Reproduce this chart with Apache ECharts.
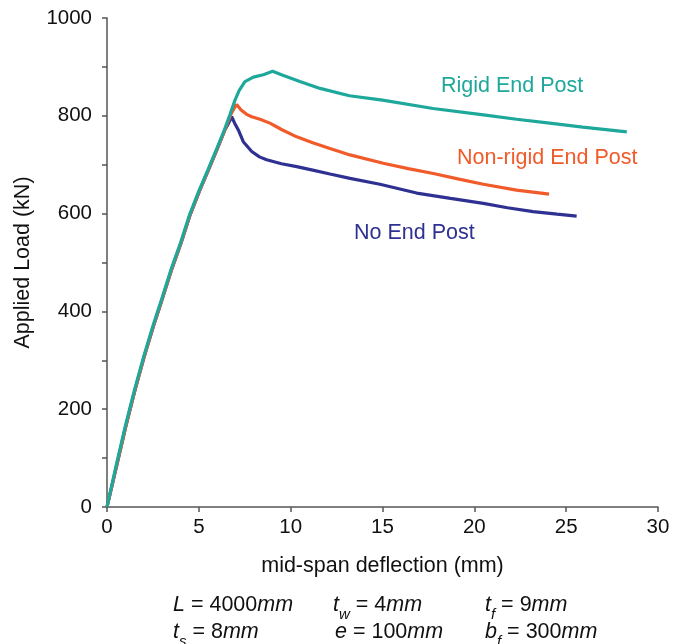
<!DOCTYPE html>
<html>
<head>
<meta charset="utf-8">
<script src="https://cdn.jsdelivr.net/npm/echarts@6/dist/echarts.min.js"></script>
<style>
html,body{margin:0;padding:0;background:#fff;}
#chart{width:692px;height:644px;}
</style>
</head>
<body>
<div id="chart"></div>
<script>
// ---- data (deflection mm, load kN) ----
const rigidX = [0, 0.5, 1.0, 1.5, 2.0, 2.5, 3.0, 3.5, 4.0, 4.5, 5.0, 5.5, 6.0, 6.4, 6.7, 6.97, 7.2, 7.51, 7.97, 8.51, 9.02, 9.5, 10.5, 11.6, 13.2, 15.0, 17.75, 20.5, 22.3, 24.1, 25.9, 28.3];
const rigidY = [0, 85, 166, 240, 308, 370, 428, 487, 540, 598, 646, 690, 735, 772, 803, 832, 852, 870, 879, 884, 891, 884, 870, 856, 841, 832, 815, 802, 793, 785, 777, 767];

const nonRigidX = [0, 0.53, 1.03, 1.53, 2.03, 2.53, 3.03, 3.53, 4.03, 4.53, 5.03, 5.53, 6.03, 6.43, 6.77, 6.92, 7.06, 7.3, 7.6, 7.88, 8.33, 8.87, 9.5, 10.33, 11.2, 12.14, 13.23, 15.04, 16.4, 17.77, 19.1, 20.49, 22.3, 24.07];
const nonRigidY = [0, 85, 166, 240, 308, 370, 428, 487, 540, 598, 646, 690, 735, 772, 805, 815, 823, 812, 803, 798, 793, 785, 772, 757, 745, 733, 720, 703, 692, 682, 671, 660, 648, 640];

const noPostX = [0, 0.53, 1.03, 1.53, 2.03, 2.53, 3.03, 3.53, 4.03, 4.53, 5.03, 5.53, 6.03, 6.43, 6.62, 6.79, 6.95, 7.15, 7.42, 7.88, 8.3, 8.69, 9.5, 10.33, 11.2, 12.14, 13.23, 14.86, 16.86, 18.7, 20.49, 21.8, 23.2, 24.5, 25.57];
const noPostY = [0, 85, 166, 240, 308, 370, 428, 487, 540, 598, 646, 690, 735, 772, 785, 798, 785, 771, 747, 727, 716, 710, 702, 696, 689, 681, 672, 660, 642, 631, 621, 612, 604, 599, 595];

const xTicks = [0, 5, 10, 15, 20, 25, 30];
const yTicks = [0, 200, 400, 600, 800, 1000];

const seriesNames = ['Rigid End Post', 'Non-rigid End Post', 'No End Post'];
const seriesColors = ['#1ea89b', '#f15a29', '#2e3192'];

function zip(xs, ys) { return xs.map((x, i) => [x, ys[i]]); }

const FONT = "'Liberation Sans', Arial, sans-serif";
const chart = echarts.init(document.getElementById('chart'));

const sub = { fontSize: 15, fontStyle: 'italic', lineHeight: 9, verticalAlign: 'bottom', fontFamily: FONT, fill: '#111' };
const it = { fontSize: 21.5, fontStyle: 'italic', lineHeight: 28, verticalAlign: 'top', fontFamily: FONT, fill: '#111' };
const rg = { fontSize: 21.5, lineHeight: 28, verticalAlign: 'top', fontFamily: FONT, fill: '#111' };
const rich = { i: it, s: sub, r: rg };

function note(x, y, text) {
  return { type: 'text', left: x, top: y, style: { text: text, rich: rich, fill: '#111', font: '21.5px ' + FONT } };
}

chart.setOption({
  animation: false,
  backgroundColor: '#fff',
  grid: { left: 107, right: 34, top: 18, bottom: 137 },
  xAxis: {
    type: 'value', min: 0, max: 30, interval: 5,
    name: 'mid-span deflection (mm)', nameLocation: 'middle', nameGap: 48,
    nameTextStyle: { fontSize: 21.5, color: '#111', fontFamily: FONT },
    axisLine: { show: true, lineStyle: { color: '#555', width: 1.5 } },
    axisTick: { show: true, length: 5, lineStyle: { color: '#555', width: 1.5 } },
    axisLabel: { fontSize: 20.5, color: '#111', fontFamily: FONT, margin: 10,
      formatter: v => xTicks.includes(v) ? String(v) : '' },
    splitLine: { show: false }
  },
  yAxis: {
    type: 'value', min: 0, max: 1000, interval: 100,
    name: 'Applied Load (kN)', nameLocation: 'middle', nameGap: 73, nameRotate: 90,
    nameTextStyle: { fontSize: 21.5, color: '#111', fontFamily: FONT },
    axisLine: { show: true, lineStyle: { color: '#555', width: 1.5 } },
    axisTick: { show: true, length: 5, lineStyle: { color: '#555', width: 1.5 } },
    axisLabel: { fontSize: 20.5, color: '#111', fontFamily: FONT, margin: 15,
      formatter: v => yTicks.includes(v) ? String(v) : '' },
    splitLine: { show: false }
  },
  series: [
    { name: seriesNames[2], type: 'line', data: zip(noPostX, noPostY), showSymbol: false, symbol: 'none',
      lineStyle: { color: seriesColors[2], width: 3.2 }, z: 2 },
    { name: seriesNames[1], type: 'line', data: zip(nonRigidX, nonRigidY), showSymbol: false, symbol: 'none',
      lineStyle: { color: seriesColors[1], width: 3.2 }, z: 3 },
    { name: seriesNames[0], type: 'line', data: zip(rigidX, rigidY), showSymbol: false, symbol: 'none',
      lineStyle: { color: seriesColors[0], width: 3.2 }, z: 4 }
  ],
  graphic: [
    { type: 'text', left: 441, top: 75, style: { text: seriesNames[0], fill: seriesColors[0], font: '21.5px ' + FONT } },
    { type: 'text', left: 457, top: 147, style: { text: seriesNames[1], fill: seriesColors[1], font: '21.5px ' + FONT } },
    { type: 'text', left: 354, top: 222, style: { text: seriesNames[2], fill: seriesColors[2], font: '21.5px ' + FONT } },
    note(173, 594, '{i|L}{r| = 4000}{i|mm}'),
    note(333, 594, '{i|t}{s|w}{r| = 4}{i|mm}'),
    note(485, 594, '{i|t}{s|f}{r| = 9}{i|mm}'),
    note(173, 621, '{i|t}{s|s}{r| = 8}{i|mm}'),
    note(335, 621, '{i|e}{r| = 100}{i|mm}'),
    note(485, 621, '{i|b}{s|f}{r| = 300}{i|mm}')
  ]
});
</script>
</body>
</html>
